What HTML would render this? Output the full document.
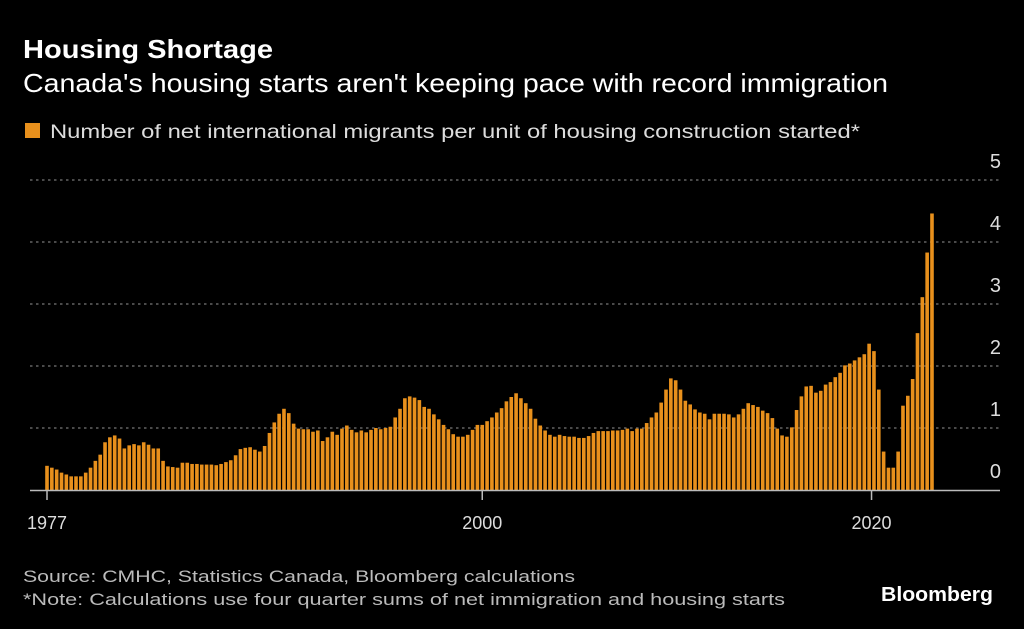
<!DOCTYPE html>
<html><head><meta charset="utf-8"><style>
html,body{margin:0;padding:0;background:#000;}
svg{display:block;font-family:"Liberation Sans",sans-serif;}
</style></head><body>
<svg id="chart" width="1024" height="629" viewBox="0 0 1024 629" xmlns="http://www.w3.org/2000/svg">
<rect width="1024" height="629" fill="#000"/>
<text x="23" y="58" fill="#fff" font-size="26" font-weight="bold" textLength="250" lengthAdjust="spacingAndGlyphs">Housing Shortage</text>
<text x="23" y="92" fill="#fff" font-size="26" textLength="865" lengthAdjust="spacingAndGlyphs">Canada's housing starts aren't keeping pace with record immigration</text>
<rect x="25" y="123" width="15" height="15" fill="#e8901c"/>
<text x="50" y="138" fill="#ddd" font-size="19" textLength="810" lengthAdjust="spacingAndGlyphs">Number of net international migrants per unit of housing construction started*</text>
<g id="grid"></g>
<g id="bars"></g>
<g id="xaxis"></g>
<text x="23" y="582" fill="#bbb" font-size="17" textLength="552" lengthAdjust="spacingAndGlyphs">Source: CMHC, Statistics Canada, Bloomberg calculations</text>
<text x="23" y="605" fill="#bbb" font-size="17" textLength="762" lengthAdjust="spacingAndGlyphs">*Note: Calculations use four quarter sums of net immigration and housing starts</text>
<text x="993" y="601" fill="#fff" font-size="20" font-weight="bold" text-anchor="end" textLength="112" lengthAdjust="spacingAndGlyphs">Bloomberg</text>
</svg>
<script>
const values = [0.39,0.36,0.33,0.28,0.25,0.22,0.22,0.22,0.28,0.36,0.47,0.57,0.77,0.85,0.88,0.83,0.67,0.72,0.74,0.72,0.77,0.73,0.67,0.67,0.47,0.38,0.37,0.36,0.44,0.44,0.42,0.42,0.41,0.41,0.41,0.40,0.42,0.45,0.48,0.56,0.66,0.68,0.69,0.65,0.62,0.71,0.92,1.09,1.23,1.31,1.24,1.07,0.99,0.98,0.98,0.94,0.96,0.79,0.85,
0.94,0.89,0.99,1.04,0.97,0.93,0.96,0.93,0.97,1.0,0.98,1.0,1.02,1.17,1.31,1.48,1.51,1.49,1.45,1.34,1.31,1.22,1.14,1.05,0.98,0.90,0.86,0.86,0.89,0.97,1.05,1.05,1.11,1.17,1.25,1.32,1.43,1.50,1.56,1.48,1.40,1.31,1.15,1.04,0.96,0.89,0.86,0.89,0.87,0.86,0.86,0.84,0.84,0.87,0.92,0.95,0.95,0.95,0.96,0.96,0.97,0.99,
0.95,0.99,0.99,1.08,1.17,1.25,1.41,1.62,1.80,1.77,1.62,1.44,1.38,1.30,1.25,1.23,1.14,1.23,1.23,1.23,1.22,1.17,1.22,1.31,1.40,1.37,1.34,1.28,1.24,1.16,0.99,0.88,0.86,1.01,1.29,1.51,1.67,1.68,1.57,1.60,1.70,1.74,1.82,1.89,2.01,2.04,2.09,2.14,2.19,2.36,2.24,1.62,0.62,0.36,0.36,0.62,1.36,1.52,1.79,2.53,3.11,3.83,4.46];
const yTicks = [0,1,2,3,4,5];
const xTickLabels = ["1977","2000","2020"];
const xTickIndex = [0,90,170.5];

const NS="http://www.w3.org/2000/svg";
const y0=490, yUnit=62, x0=47, step=4.836, bw=3.6;
const yScale=v=>y0-v*yUnit;
const xScale=i=>x0+i*step;
const grid=document.getElementById('grid'), bars=document.getElementById('bars'), xa=document.getElementById('xaxis');
yTicks.forEach(t=>{
  if(t>0){
    const l=document.createElementNS(NS,'line');
    l.setAttribute('x1',30);l.setAttribute('x2',999);
    l.setAttribute('y1',yScale(t));l.setAttribute('y2',yScale(t));
    l.setAttribute('stroke','#777');l.setAttribute('stroke-width','1.3');l.setAttribute('stroke-dasharray','2.5 3.5');
    
    
    grid.appendChild(l);
  }
  const tx=document.createElementNS(NS,'text');
  tx.setAttribute('x',1001);tx.setAttribute('y',yScale(t)-12);
  tx.setAttribute('text-anchor','end');tx.setAttribute('fill','#ddd');tx.setAttribute('font-size','20');
  tx.textContent=t;
  
  
  grid.appendChild(tx);
});
values.forEach((v,i)=>{
  const r=document.createElementNS(NS,'rect');
  r.setAttribute('x',xScale(i)-bw/2);r.setAttribute('width',bw);
  r.setAttribute('y',yScale(v));r.setAttribute('height',v*yUnit);
  r.setAttribute('fill','#e8901c');
  
  
  bars.appendChild(r);
});
const ax=document.createElementNS(NS,'line');
ax.setAttribute('x1',30);ax.setAttribute('x2',1000);ax.setAttribute('y1',490.5);ax.setAttribute('y2',490.5);
ax.setAttribute('stroke','#bbb');ax.setAttribute('stroke-width','1.5');


xa.appendChild(ax);
xTickLabels.forEach((lab,k)=>{
  const x=xScale(xTickIndex[k]);
  const t=document.createElementNS(NS,'line');
  t.setAttribute('x1',x);t.setAttribute('x2',x);t.setAttribute('y1',490);t.setAttribute('y2',500);
  t.setAttribute('stroke','#bbb');t.setAttribute('stroke-width','1.5');
  
  
  xa.appendChild(t);
  const tx=document.createElementNS(NS,'text');
  tx.setAttribute('x',x);tx.setAttribute('y',529);tx.setAttribute('text-anchor','middle');
  tx.setAttribute('fill','#ddd');tx.setAttribute('font-size','18');
  tx.textContent=lab;
  
  
  xa.appendChild(tx);
});
</script>
</body></html>
